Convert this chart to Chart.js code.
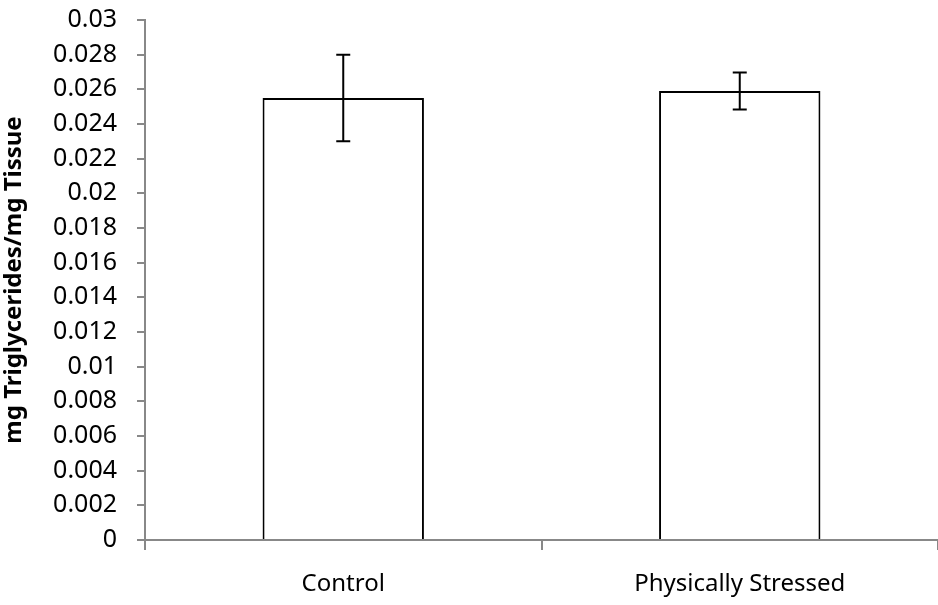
<!DOCTYPE html>
<html>
<head>
<meta charset="utf-8">
<script src="https://cdn.jsdelivr.net/npm/chart.js@4/dist/chart.umd.min.js"></script>
<style>
html,body{margin:0;padding:0;background:#fff;}
#wrap{width:938px;height:605px;position:relative;}
</style>
</head>
<body>
<div id="wrap"><canvas id="c" width="938" height="605"></canvas></div>
<script>
const categories = ["Control", "Physically Stressed"];
const values = [0.0255, 0.0259];
const errors = [0.0025, 0.00107];
const yTitle = "mg Triglycerides/mg Tissue";

const errorBarPlugin = {
  id: 'errorBars',
  afterDatasetsDraw(chart) {
    const ctx = chart.ctx;
    const meta = chart.getDatasetMeta(0);
    const y = chart.scales.y;
    ctx.save();
    ctx.strokeStyle = '#000';
    ctx.lineWidth = 2;
    meta.data.forEach((bar, i) => {
      const x = bar.x;
      const top = y.getPixelForValue(values[i] + errors[i]);
      const bot = y.getPixelForValue(values[i] - errors[i]);
      ctx.beginPath();
      ctx.moveTo(x, top); ctx.lineTo(x, bot);
      ctx.moveTo(x - 7, top); ctx.lineTo(x + 7, top);
      ctx.moveTo(x - 7, bot); ctx.lineTo(x + 7, bot);
      ctx.stroke();
    });
    ctx.restore();
  }
};

new Chart(document.getElementById('c'), {
  type: 'bar',
  data: {
    labels: categories,
    datasets: [{
      data: values,
      backgroundColor: '#ffffff',
      borderColor: '#000000',
      borderWidth: 2,
      borderSkipped: 'bottom',
      barPercentage: 1,
      categoryPercentage: 0.407
    }]
  },
  options: {
    responsive: false,
    animation: false,
    devicePixelRatio: 1,
    layout: { padding: { top: 20, right: 0, left: 0, bottom: 0 } },
    plugins: { legend: { display: false }, tooltip: { enabled: false } },
    scales: {
      x: {
        grid: { display: true, drawOnChartArea: false, drawTicks: true, tickLength: 10, color: '#888', lineWidth: 2, offset: true },
        border: { display: true, color: '#888', width: 2 },
        ticks: { color: '#000', font: { family: 'Noto Sans', size: 24 }, padding: 20 },
        afterFit(s) { s.height = 65; s.paddingLeft = 0; s.paddingRight = 0; }
      },
      y: {
        min: 0, max: 0.03,
        grid: { display: true, drawOnChartArea: false, drawTicks: true, tickLength: 8, color: '#888', lineWidth: 2 },
        border: { display: true, color: '#888', width: 2 },
        ticks: { stepSize: 0.002, color: '#000', font: { family: 'Noto Sans', size: 25 }, padding: 20,
          callback: (v) => parseFloat(v.toFixed(3)).toString() },
        title: { display: true, text: yTitle, color: '#000', font: { family: 'Noto Sans', size: 24, weight: 'bold' }, padding: 0 },
        afterFit(s) { s.width = 145; s.paddingTop = 0; s.paddingBottom = 0; }
      }
    }
  },
  plugins: [errorBarPlugin]
});
</script>
</body>
</html>
